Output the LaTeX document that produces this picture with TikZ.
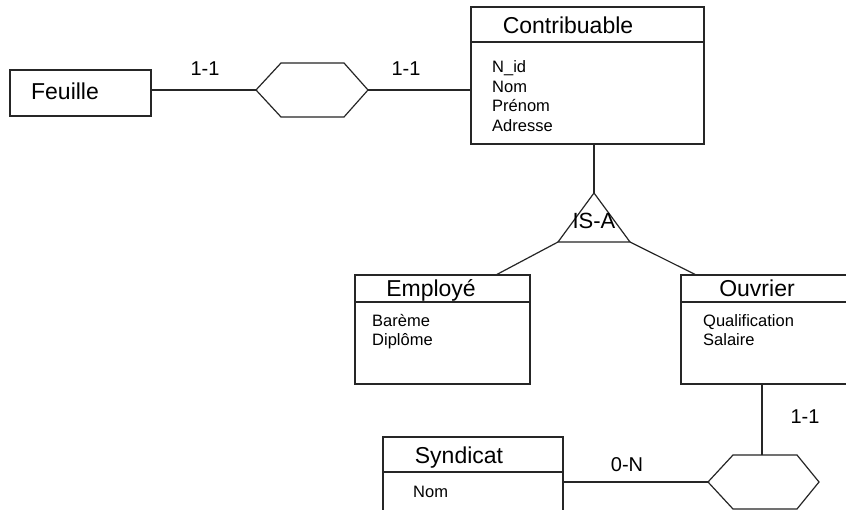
\documentclass[tikz,border=0pt]{standalone}
\usepackage{fontspec}
\setmainfont{Liberation Sans}
\begin{document}
\begin{tikzpicture}[x=1pt,y=-1pt,
  ln/.style={draw=black!85,line width=1.2pt},
  title/.style={inner sep=0pt,anchor=base,font=\fontsize{23}{23}\selectfont,text=black},
  attr/.style={inner sep=0pt,anchor=base west,font=\fontsize{16.5}{19}\selectfont,text=black},
  card/.style={inner sep=0pt,anchor=base,font=\fontsize{20}{20}\selectfont,text=black},
  boxe/.style={ln,rectangle,inner sep=0pt}]
\useasboundingbox (0,0) rectangle (846,510);
\clip (0,0) rectangle (846,510);
\fill[white] (0,0) rectangle (846,510);

% Feuille
\node[boxe,minimum width=141pt,minimum height=46pt] (feuille) at (80.5,93) {};
\node[title] (tfeuille) at (65,100) {Feuille};

% hexagon 1
\coordinate (h1w) at (256,90);
\coordinate (h1e) at (368,90);
\draw[ln,line join=miter] (h1w) -- (281,63) -- (344,63) -- (h1e) -- (344,117) -- (281,117) -- cycle;

% Contribuable
\node[boxe,minimum width=233pt,minimum height=137pt] (contrib) at (587.5,75.5) {};
\draw[ln] (contrib.west |- 0,42) -- (contrib.east |- 0,42);
\node[title] (tcontrib) at (568,34) {Contribuable};
\node[attr] (a1) at (492,73) {N\_id};
\node[attr] (a2) at (492,92.5) {Nom};
\node[attr] (a3) at (492,112) {Prénom};
\node[attr] (a4) at (492,131.5) {Adresse};

% connectors top
\draw[ln] (feuille.east |- h1w) -- (h1w);
\draw[ln] (h1e) -- (contrib.west |- h1e);
\node[card] (c1) at (205,76) {1-1};
\node[card] (c2) at (406,76) {1-1};

% IS-A triangle
\coordinate (isatop) at (594,193);
\coordinate (isal) at (558,242);
\coordinate (isar) at (630,242);
\draw[ln] (contrib.south -| isatop) -- (isatop);
\draw[ln,line join=miter] (isatop) -- (isal) -- (isar) -- cycle;
\node[inner sep=0pt,anchor=base,font=\fontsize{22}{22}\selectfont,text=black] (isa) at (594,229) {IS-A};

% Employe
\node[boxe,minimum width=175pt,minimum height=109pt] (employe) at (442.5,329.5) {};
\draw[ln] (employe.west |- 0,302) -- (employe.east |- 0,302);
\node[title] (temploye) at (431,297) {Employé};
\node[attr] (e1) at (372,327) {Barème};
\node[attr] (e2) at (372,346) {Diplôme};

% Ouvrier
\node[boxe,minimum width=179pt,minimum height=109pt] (ouvrier) at (770.5,329.5) {};
\draw[ln] (ouvrier.west |- 0,302) -- (ouvrier.east |- 0,302);
\node[title] (touvrier) at (757,297) {Ouvrier};
\node[attr] (o1) at (703,327) {Qualification};
\node[attr] (o2) at (703,346) {Salaire};

\draw[ln] (isal) -- (employe.north -| 497,0);
\draw[ln] (isar) -- (ouvrier.north -| 695,0);

% hexagon 2
\coordinate (h2w) at (708,482);
\coordinate (h2n) at (762,455);
\draw[ln,line join=miter] (h2w) -- (733,455) -- (797,455) -- (819,482) -- (797,509) -- (733,509) -- cycle;
\draw[ln] (ouvrier.south -| h2n) -- (h2n);
\node[card] (c3) at (805,424) {1-1};

% Syndicat
\node[boxe,minimum width=180pt,minimum height=100pt] (syndicat) at (473,487) {};
\draw[ln] (syndicat.west |- 0,472) -- (syndicat.east |- 0,472);
\node[title] (tsyndicat) at (459,463) {Syndicat};
\node[attr] (s1) at (413,497) {Nom};
\draw[ln] (syndicat.east |- h2w) -- (h2w);
\node[card] (c4) at (627,471) {0-N};
\end{tikzpicture}
\end{document}
